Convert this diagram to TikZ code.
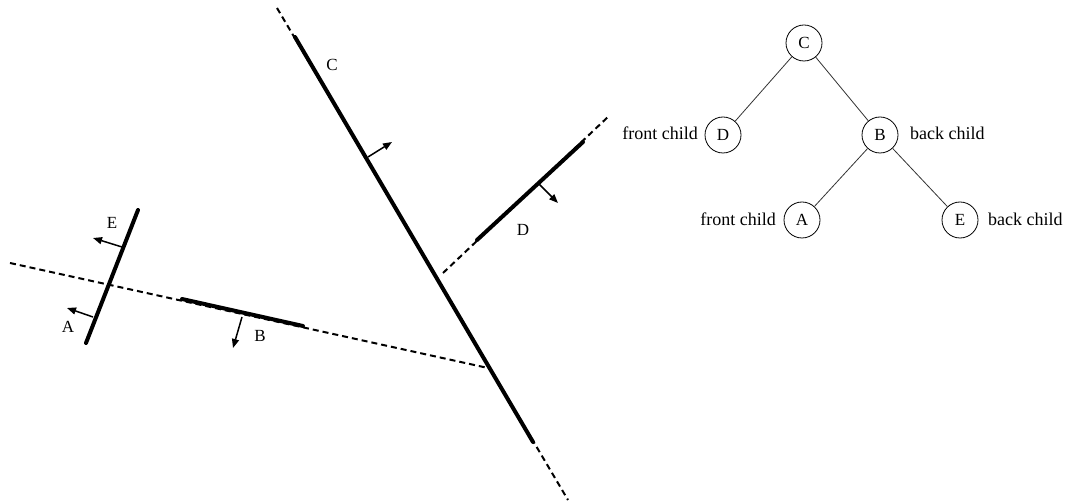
\documentclass[tikz,border=0pt]{standalone}
\usepackage{fontspec}
\setmainfont{Liberation Serif}
\usetikzlibrary{arrows.meta}
\tikzset{
  plane/.style={line width=2pt, dash pattern=on 6pt off 4pt},
  wall/.style={line width=4pt, line cap=round},
  normal/.style={line width=1.5pt, -{Triangle[length=9pt,width=7pt]}},
  lbl/.style={font=\fontsize{17}{19}\selectfont, inner sep=0pt},
  tnode/.style={circle, draw, line width=0.8pt, minimum size=36pt, inner sep=0pt, font=\fontsize{17}{19}\selectfont},
  tedge/.style={line width=0.8pt, draw=black!80},
  tlbl/.style={font=\fontsize{18}{20}\selectfont, inner sep=0pt}
}
\begin{document}
\begin{tikzpicture}[x=1pt,y=-1pt]
\useasboundingbox (0,0) rectangle (1068,502);
% line C
\coordinate (c1) at (277,8);
\coordinate (c2) at (568,500);
\coordinate (cs1) at (295,37);
\coordinate (cs2) at (533,442);
\draw[plane] (c1) -- (c2);
\draw[wall] (cs1) -- (cs2);
% line D
\coordinate (d1) at (443,273);
\coordinate (d2) at (610,115);
\coordinate (ds1) at (477,240);
\coordinate (ds2) at (583,142);
\draw[plane] (d1) -- (d2);
\draw[wall] (ds1) -- (ds2);
% line A-B
\coordinate (b1) at (10,263);
\coordinate (b2) at (488,368);
\coordinate (bs1) at (182,299);
\coordinate (bs2) at (303,326);
\draw[plane] (b1) -- (b2);
\draw[wall] (bs1) -- (bs2);
% line A-E
\coordinate (e1) at (138,210);
\coordinate (e2) at (86,343);
\draw[wall] (e1) -- (e2);
% normals
\coordinate (nc1) at (368,157); \coordinate (nc2) at (392,142);
\coordinate (nd1) at (538,183); \coordinate (nd2) at (558,203);
\coordinate (ne1) at (122,247); \coordinate (ne2) at (93,238);
\coordinate (na1) at (93,317);  \coordinate (na2) at (67,308);
\coordinate (nb1) at (242,317); \coordinate (nb2) at (233,348);
\draw[normal] (nc1) -- (nc2);
\draw[normal] (nd1) -- (nd2);
\draw[normal] (ne1) -- (ne2);
\draw[normal] (na1) -- (na2);
\draw[normal] (nb1) -- (nb2);
% labels
\node[lbl] (lC) at (332,65) {C};
\node[lbl] (lD) at (523,230) {D};
\node[lbl] (lE) at (112,223) {E};
\node[lbl] (lA) at (68,327) {A};
\node[lbl] (lB) at (260,336) {B};
% tree
\node[tnode] (tC) at (804,43) {C};
\node[tnode] (tD) at (723,135) {D};
\node[tnode] (tB) at (880,135) {B};
\node[tnode] (tA) at (802,220) {A};
\node[tnode] (tE) at (960,220) {E};
\draw[tedge] (tC) -- (tD);
\draw[tedge] (tC) -- (tB);
\draw[tedge] (tB) -- (tA);
\draw[tedge] (tB) -- (tE);
\node[tlbl, anchor=east] (fD) at (698,133) {front child};
\node[tlbl, anchor=west] (bB) at (910,133) {back child};
\node[tlbl, anchor=east] (fA) at (776,219) {front child};
\node[tlbl, anchor=west] (bE) at (988,219) {back child};
\end{tikzpicture}
\end{document}
